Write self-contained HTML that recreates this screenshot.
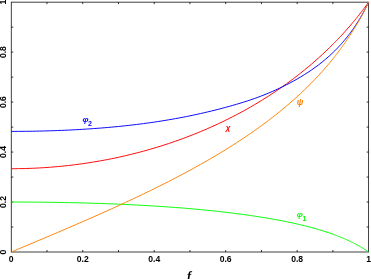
<!DOCTYPE html>
<html><head><meta charset="utf-8"><title>plot</title>
<style>html,body{margin:0;padding:0;background:#fff}svg{display:block}</style></head>
<body>
<svg width="371" height="279" viewBox="0 0 371 279" style="filter:blur(0.35px)">
<rect width="371" height="279" fill="#fff"/>
<path d="M46.99 252.00v-2.00M46.99 2.15v2.00M11.25 227.01h2.00M368.65 227.01h-2.00M82.73 252.00v-2.00M82.73 2.15v2.00M11.25 202.03h2.00M368.65 202.03h-2.00M118.47 252.00v-2.00M118.47 2.15v2.00M11.25 177.05h2.00M368.65 177.05h-2.00M154.21 252.00v-2.00M154.21 2.15v2.00M11.25 152.06h2.00M368.65 152.06h-2.00M189.95 252.00v-2.00M189.95 2.15v2.00M11.25 127.08h2.00M368.65 127.08h-2.00M225.69 252.00v-2.00M225.69 2.15v2.00M11.25 102.09h2.00M368.65 102.09h-2.00M261.43 252.00v-2.00M261.43 2.15v2.00M11.25 77.11h2.00M368.65 77.11h-2.00M297.17 252.00v-2.00M297.17 2.15v2.00M11.25 52.12h2.00M368.65 52.12h-2.00M332.91 252.00v-2.00M332.91 2.15v2.00M11.25 27.13h2.00M368.65 27.13h-2.00" stroke="#000" stroke-width="0.8" fill="none"/>
<rect x="11.25" y="2.15" width="357.40" height="249.85" fill="none" stroke="#000" stroke-width="0.75"/>
<path d="M11.25 202.03 L14.82 202.03 L18.40 202.04 L21.97 202.05 L25.55 202.07 L29.12 202.09 L32.69 202.11 L36.27 202.14 L39.84 202.17 L43.42 202.21 L46.99 202.25 L50.56 202.30 L54.14 202.35 L57.71 202.41 L61.29 202.47 L64.86 202.54 L68.43 202.61 L72.01 202.68 L75.58 202.77 L79.16 202.85 L82.73 202.94 L86.30 203.04 L89.88 203.14 L93.45 203.25 L97.03 203.36 L100.60 203.48 L104.17 203.61 L107.75 203.74 L111.32 203.87 L114.90 204.02 L118.47 204.17 L122.04 204.32 L125.62 204.48 L129.19 204.65 L132.77 204.83 L136.34 205.01 L139.91 205.20 L143.49 205.39 L147.06 205.60 L150.64 205.81 L154.21 206.03 L157.78 206.25 L161.36 206.48 L164.93 206.73 L168.51 206.98 L172.08 207.24 L175.65 207.50 L179.23 207.78 L182.80 208.06 L186.38 208.36 L189.95 208.66 L193.52 208.98 L197.10 209.30 L200.67 209.63 L204.25 209.98 L207.82 210.33 L211.39 210.70 L214.97 211.07 L218.54 211.46 L222.12 211.86 L225.69 212.28 L229.26 212.70 L232.84 213.14 L236.41 213.59 L239.99 214.06 L243.56 214.54 L247.13 215.04 L250.71 215.55 L254.28 216.08 L257.86 216.62 L261.43 217.18 L265.00 217.76 L268.58 218.37 L272.15 218.99 L275.73 219.63 L279.30 220.29 L282.87 220.98 L286.45 221.70 L290.02 222.44 L293.60 223.21 L297.17 224.00 L300.74 224.83 L304.32 225.70 L307.89 226.60 L311.47 227.54 L315.04 228.53 L318.61 229.56 L322.19 230.63 L325.76 231.77 L329.34 232.96 L332.91 234.21 L333.80 234.53 L334.70 234.86 L335.59 235.20 L336.48 235.53 L337.38 235.88 L338.27 236.22 L339.16 236.57 L340.06 236.93 L340.95 237.29 L341.84 237.66 L342.74 238.03 L343.63 238.41 L344.53 238.80 L345.42 239.19 L346.31 239.58 L347.21 239.99 L348.10 240.39 L348.99 240.81 L349.89 241.23 L350.78 241.66 L351.67 242.10 L352.57 242.54 L353.46 242.99 L354.35 243.45 L355.25 243.91 L356.14 244.39 L357.03 244.87 L357.93 245.36 L358.82 245.86 L359.71 246.36 L360.61 246.88 L361.50 247.41 L362.40 247.95 L363.29 248.49 L364.18 249.05 L365.08 249.62 L365.97 250.19 L366.86 250.78 L367.76 251.39 L368.65 252.00" stroke="#00ff00" stroke-width="0.95" fill="none" stroke-linejoin="round"/>
<path d="M11.25 168.72 L14.82 168.70 L18.40 168.67 L21.97 168.60 L25.55 168.52 L29.12 168.40 L32.69 168.27 L36.27 168.10 L39.84 167.92 L43.42 167.70 L46.99 167.47 L50.56 167.20 L54.14 166.91 L57.71 166.60 L61.29 166.26 L64.86 165.89 L68.43 165.50 L72.01 165.09 L75.58 164.64 L79.16 164.18 L82.73 163.68 L86.30 163.16 L89.88 162.61 L93.45 162.04 L97.03 161.44 L100.60 160.82 L104.17 160.16 L107.75 159.48 L111.32 158.77 L114.90 158.04 L118.47 157.28 L122.04 156.49 L125.62 155.67 L129.19 154.82 L132.77 153.95 L136.34 153.04 L139.91 152.11 L143.49 151.15 L147.06 150.16 L150.64 149.14 L154.21 148.09 L157.78 147.01 L161.36 145.90 L164.93 144.76 L168.51 143.58 L172.08 142.38 L175.65 141.14 L179.23 139.87 L182.80 138.57 L186.38 137.23 L189.95 135.87 L193.52 134.46 L197.10 133.02 L200.67 131.55 L204.25 130.04 L207.82 128.50 L211.39 126.92 L214.97 125.30 L218.54 123.64 L222.12 121.95 L225.69 120.21 L229.26 118.44 L232.84 116.62 L236.41 114.77 L239.99 112.87 L243.56 110.92 L247.13 108.94 L250.71 106.90 L254.28 104.82 L257.86 102.70 L261.43 100.52 L265.00 98.30 L268.58 96.02 L272.15 93.70 L275.73 91.32 L279.30 88.88 L282.87 86.39 L286.45 83.83 L290.02 81.22 L293.60 78.55 L297.17 75.81 L300.74 73.00 L304.32 70.13 L307.89 67.18 L311.47 64.16 L315.04 61.06 L318.61 57.89 L322.19 54.62 L325.76 51.27 L329.34 47.83 L332.91 44.29 L333.80 43.39 L334.70 42.48 L335.59 41.57 L336.48 40.65 L337.38 39.72 L338.27 38.79 L339.16 37.85 L340.06 36.90 L340.95 35.95 L341.84 34.99 L342.74 34.02 L343.63 33.04 L344.53 32.06 L345.42 31.07 L346.31 30.07 L347.21 29.06 L348.10 28.04 L348.99 27.02 L349.89 25.99 L350.78 24.95 L351.67 23.90 L352.57 22.84 L353.46 21.78 L354.35 20.70 L355.25 19.62 L356.14 18.53 L357.03 17.43 L357.93 16.31 L358.82 15.19 L359.71 14.06 L360.61 12.92 L361.50 11.77 L362.40 10.60 L363.29 9.43 L364.18 8.25 L365.08 7.05 L365.97 5.84 L366.86 4.62 L367.76 3.39 L368.65 2.15" stroke="#ff0000" stroke-width="0.95" fill="none" stroke-linejoin="round"/>
<path d="M11.25 131.40 L14.82 131.39 L18.40 131.38 L21.97 131.35 L25.55 131.32 L29.12 131.27 L32.69 131.22 L36.27 131.15 L39.84 131.08 L43.42 130.99 L46.99 130.89 L50.56 130.78 L54.14 130.67 L57.71 130.54 L61.29 130.40 L64.86 130.25 L68.43 130.08 L72.01 129.91 L75.58 129.72 L79.16 129.52 L82.73 129.31 L86.30 129.09 L89.88 128.85 L93.45 128.61 L97.03 128.34 L100.60 128.07 L104.17 127.78 L107.75 127.47 L111.32 127.16 L114.90 126.82 L118.47 126.48 L122.04 126.11 L125.62 125.73 L129.19 125.34 L132.77 124.93 L136.34 124.50 L139.91 124.05 L143.49 123.59 L147.06 123.11 L150.64 122.62 L154.21 122.10 L157.78 121.56 L161.36 121.01 L164.93 120.43 L168.51 119.84 L172.08 119.23 L175.65 118.59 L179.23 117.93 L182.80 117.26 L186.38 116.56 L189.95 115.83 L193.52 115.09 L197.10 114.32 L200.67 113.53 L204.25 112.71 L207.82 111.88 L211.39 111.02 L214.97 110.13 L218.54 109.23 L222.12 108.30 L225.69 107.34 L229.26 106.36 L232.84 105.36 L236.41 104.32 L239.99 103.25 L243.56 102.15 L247.13 101.01 L250.71 99.82 L254.28 98.58 L257.86 97.30 L261.43 95.95 L265.00 94.55 L268.58 93.08 L272.15 91.56 L275.73 89.96 L279.30 88.31 L282.87 86.58 L286.45 84.79 L290.02 82.93 L293.60 80.99 L297.17 78.98 L300.74 76.88 L304.32 74.69 L307.89 72.40 L311.47 70.00 L315.04 67.48 L318.61 64.83 L322.19 62.04 L325.76 59.08 L329.34 55.95 L332.91 52.62 L333.80 51.76 L334.70 50.88 L335.59 49.99 L336.48 49.08 L337.38 48.16 L338.27 47.22 L339.16 46.26 L340.06 45.29 L340.95 44.31 L341.84 43.30 L342.74 42.28 L343.63 41.24 L344.53 40.18 L345.42 39.10 L346.31 38.01 L347.21 36.89 L348.10 35.75 L348.99 34.59 L349.89 33.41 L350.78 32.21 L351.67 30.98 L352.57 29.73 L353.46 28.45 L354.35 27.15 L355.25 25.82 L356.14 24.47 L357.03 23.09 L357.93 21.67 L358.82 20.23 L359.71 18.76 L360.61 17.26 L361.50 15.73 L362.40 14.16 L363.29 12.56 L364.18 10.92 L365.08 9.24 L365.97 7.53 L366.86 5.78 L367.76 3.99 L368.65 2.15" stroke="#0000ff" stroke-width="0.95" fill="none" stroke-linejoin="round"/>
<path d="M11.25 252.00 L14.82 250.50 L18.40 249.00 L21.97 247.50 L25.55 246.00 L29.12 244.50 L32.69 242.99 L36.27 241.49 L39.84 239.98 L43.42 238.47 L46.99 236.96 L50.56 235.45 L54.14 233.93 L57.71 232.41 L61.29 230.88 L64.86 229.35 L68.43 227.81 L72.01 226.28 L75.58 224.73 L79.16 223.18 L82.73 221.63 L86.30 220.06 L89.88 218.50 L93.45 216.92 L97.03 215.34 L100.60 213.75 L104.17 212.15 L107.75 210.54 L111.32 208.93 L114.90 207.31 L118.47 205.67 L122.04 204.03 L125.62 202.38 L129.19 200.71 L132.77 199.03 L136.34 197.35 L139.91 195.65 L143.49 193.93 L147.06 192.21 L150.64 190.47 L154.21 188.72 L157.78 186.95 L161.36 185.16 L164.93 183.36 L168.51 181.55 L172.08 179.71 L175.65 177.86 L179.23 175.99 L182.80 174.10 L186.38 172.19 L189.95 170.26 L193.52 168.31 L197.10 166.33 L200.67 164.33 L204.25 162.31 L207.82 160.26 L211.39 158.19 L214.97 156.09 L218.54 153.96 L222.12 151.80 L225.69 149.61 L229.26 147.39 L232.84 145.13 L236.41 142.84 L239.99 140.51 L243.56 138.15 L247.13 135.74 L250.71 133.29 L254.28 130.81 L257.86 128.27 L261.43 125.69 L265.00 123.06 L268.58 120.37 L272.15 117.63 L275.73 114.84 L279.30 111.98 L282.87 109.06 L286.45 106.07 L290.02 103.01 L293.60 99.88 L297.17 96.66 L300.74 93.36 L304.32 89.98 L307.89 86.49 L311.47 82.91 L315.04 79.22 L318.61 75.41 L322.19 71.48 L325.76 67.41 L329.34 63.20 L332.91 58.83 L333.80 57.71 L334.70 56.58 L335.59 55.44 L336.48 54.29 L337.38 53.13 L338.27 51.96 L339.16 50.77 L340.06 49.57 L340.95 48.36 L341.84 47.14 L342.74 45.90 L343.63 44.65 L344.53 43.38 L345.42 42.10 L346.31 40.81 L347.21 39.50 L348.10 38.17 L348.99 36.83 L349.89 35.47 L350.78 34.10 L351.67 32.71 L352.57 31.30 L353.46 29.87 L354.35 28.43 L355.25 26.96 L356.14 25.48 L357.03 23.97 L357.93 22.45 L358.82 20.90 L359.71 19.33 L360.61 17.73 L361.50 16.11 L362.40 14.47 L363.29 12.80 L364.18 11.10 L365.08 9.37 L365.97 7.61 L366.86 5.83 L367.76 4.01 L368.65 2.15" stroke="#ff8000" stroke-width="0.95" fill="none" stroke-linejoin="round"/>
<g font-family="'Liberation Sans', sans-serif" font-weight="bold" font-size="8.6" fill="#000" text-anchor="middle">
<text x="11.25" y="261.90">0</text>
<text transform="translate(6.10 252.00) rotate(-90)">0</text>
<text x="82.73" y="261.90">0.2</text>
<text transform="translate(6.10 202.03) rotate(-90)">0.2</text>
<text x="154.21" y="261.90">0.4</text>
<text transform="translate(6.10 152.06) rotate(-90)">0.4</text>
<text x="225.69" y="261.90">0.6</text>
<text transform="translate(6.10 102.09) rotate(-90)">0.6</text>
<text x="297.17" y="261.90">0.8</text>
<text transform="translate(6.10 52.12) rotate(-90)">0.8</text>
<text x="368.65" y="261.90">1</text>
<text transform="translate(6.10 2.15) rotate(-90)">1</text>
</g>
<g font-family="'Liberation Sans', sans-serif" font-weight="bold" font-size="7.5" font-style="italic"><text transform="translate(82.5 121.8) scale(1.15 1)" fill="#0000ff">φ</text><text x="88" y="125.6" fill="#0000ff" font-size="7" font-style="normal">2</text><text x="225.7" y="130.4" fill="#ff0000" font-size="8.1">χ</text><text x="296.8" y="105" fill="#ff8000" font-size="8.5">ψ</text><text transform="translate(296.7 216.9) scale(1.15 1)" fill="#00ff00">φ</text><text x="302.6" y="220.8" fill="#00ff00" font-size="7" font-style="normal">1</text></g><text x="187" y="280" font-family="'Liberation Serif', serif" font-weight="bold" font-style="italic" font-size="12.5" fill="#000">f</text>
</svg>
</body></html>
